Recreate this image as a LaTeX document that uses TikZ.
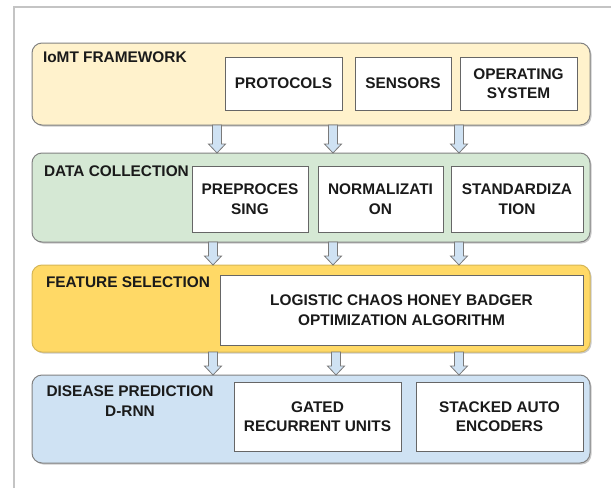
\documentclass[tikz,border=0pt]{standalone}
\usepackage{fontspec}
\setmainfont{Liberation Sans}
\usetikzlibrary{shadows,calc}
\definecolor{frameg}{HTML}{C4C4C4}
\definecolor{cstroke}{HTML}{828282}
\definecolor{istroke}{HTML}{666666}
\definecolor{yel1}{HTML}{FFF2CC}
\definecolor{grn}{HTML}{D5E8D4}
\definecolor{yel2}{HTML}{FFD966}
\definecolor{yel2s}{HTML}{D6B656}
\definecolor{blu}{HTML}{CFE2F3}
\definecolor{arrs}{HTML}{7A7A7A}
\definecolor{txt}{HTML}{1A1A1A}
\tikzset{
  container/.style={draw=cstroke, line width=1pt, rounded corners=10pt, inner sep=0pt, outer sep=0pt,
    drop shadow={shadow xshift=1.5pt, shadow yshift=-1.5pt, opacity=0.35, fill=black!60}},
  innerbox/.style={draw=istroke, fill=white, line width=0.9pt, inner sep=0pt, outer sep=0pt, align=center,
    text=txt, font=\fontsize{15.4}{19.5}\selectfont\bfseries,
    drop shadow={shadow xshift=1.2pt, shadow yshift=-1.2pt, opacity=0.3, fill=black!60}},
  lbl/.style={inner sep=0pt, outer sep=0pt, align=center, text=txt, font=\fontsize{15.4}{19.5}\selectfont\bfseries},
  barrow/.style={draw=arrs, fill=blu, line width=0.8pt, line join=miter}
}
% #1 name, #2 x1, #3 y1, #4 x2, #5 y2, #6 style, #7 text
\newcommand\boxat[7]{%
  \node[#6, anchor=north west, minimum width={(#4-#2)*1pt}, minimum height={(#5-#3)*1pt}] (#1) at (#2,#3) {#7};}
% #1 upper node, #2 lower node, #3 x
\newcommand\blockarr[3]{%
  \path let \p1=(#1.south), \p2=(#2.north) in
    [barrow] (#3pt-4.5pt,\y1) -- (#3pt+4.5pt,\y1) -- (#3pt+4.5pt,\y2+9pt) -- (#3pt+8.5pt,\y2+9pt)
    -- (#3pt,\y2) -- (#3pt-8.5pt,\y2+9pt) -- (#3pt-4.5pt,\y2+9pt) -- cycle;}
\begin{document}
\begin{tikzpicture}[x=1pt,y=-1pt]
\useasboundingbox (0,0) rectangle (611,488);
\fill[white] (0,0) rectangle (611,488);
\draw[frameg, line width=1.2pt] (14,488) -- (14,7) -- (611,7);

% containers
\boxat{c1}{32}{43}{590}{125}{container, fill=yel1}{}
\boxat{c2}{32}{153}{590}{242}{container, fill=grn}{}
\boxat{c3}{32}{265}{590}{352}{container, fill=yel2, draw=yel2s}{}
\boxat{c4}{32}{375}{590}{463}{container, fill=blu}{}

% container labels
\node[lbl, anchor=base west] (l1) at (43,62.5) {IoMT FRAMEWORK};
\node[lbl, anchor=base west] (l2) at (44,176.5) {DATA COLLECTION};
\node[lbl, anchor=base west] (l3) at (46,287) {FEATURE SELECTION};
\node[lbl, anchor=north] (l4) at (130,386) {DISEASE PREDICTION\\D-RNN};

% inner boxes
\boxat{p1}{225}{57}{342}{110}{innerbox}{PROTOCOLS}
\boxat{p2}{355}{57}{451}{110}{innerbox}{SENSORS}
\boxat{p3}{460}{57}{577}{110}{innerbox}{OPERATING\\SYSTEM}

\boxat{d1}{192}{166}{308}{232}{innerbox}{PREPROCES\\SING}
\boxat{d2}{318}{166}{443}{232}{innerbox}{NORMALIZATI\\ON}
\boxat{d3}{451}{166}{583}{232}{innerbox}{STANDARDIZA\\TION}

\boxat{f1}{220}{275}{583}{345}{innerbox}{LOGISTIC CHAOS HONEY BADGER\\OPTIMIZATION ALGORITHM}

\boxat{g1}{234}{382}{401}{451}{innerbox}{GATED\\RECURRENT UNITS}
\boxat{g2}{416}{382}{583}{451}{innerbox}{STACKED AUTO\\ENCODERS}

% block arrows
\blockarr{c1}{c2}{217}
\blockarr{c1}{c2}{333}
\blockarr{c1}{c2}{459}
\blockarr{c2}{c3}{213}
\blockarr{c2}{c3}{333}
\blockarr{c2}{c3}{459}
\blockarr{c3}{c4}{213}
\blockarr{c3}{c4}{336}
\blockarr{c3}{c4}{459}
\end{tikzpicture}
\end{document}
